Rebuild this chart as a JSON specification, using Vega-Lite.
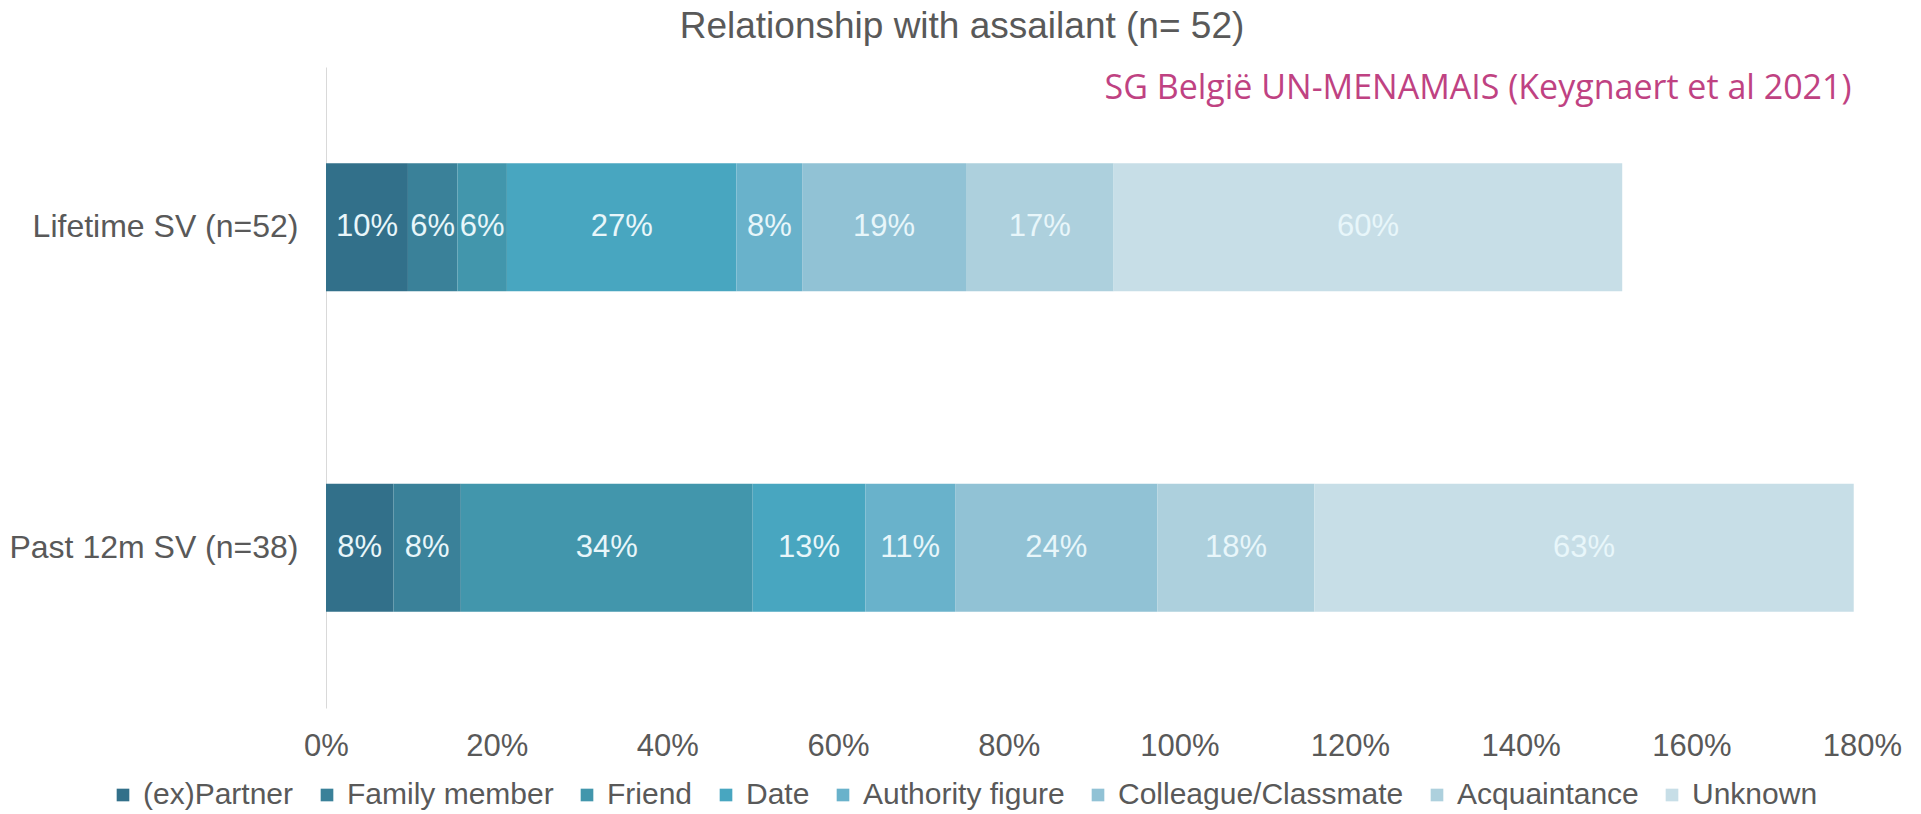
{
  "$schema": "https://vega.github.io/schema/vega-lite/v6.json",
  "width": 1536,
  "height": 641,
  "autosize": {"type": "none"},
  "padding": {"left": 326, "top": 67, "right": 59, "bottom": 106},
  "background": "white",
  "title": {
    "text": "Relationship with assailant (n= 52)",
    "anchor": "middle",
    "dx": -132,
    "font": "Liberation Sans",
    "fontSize": 37,
    "fontWeight": "normal",
    "color": "#595959",
    "offset": 21
  },
  "data": {
    "values": [
      {"row": "Lifetime SV (n=52)", "cat": "(ex)Partner", "order": 1, "v": 0.096},
      {"row": "Lifetime SV (n=52)", "cat": "Family member", "order": 2, "v": 0.058},
      {"row": "Lifetime SV (n=52)", "cat": "Friend", "order": 3, "v": 0.058},
      {"row": "Lifetime SV (n=52)", "cat": "Date", "order": 4, "v": 0.269},
      {"row": "Lifetime SV (n=52)", "cat": "Authority figure", "order": 5, "v": 0.077},
      {"row": "Lifetime SV (n=52)", "cat": "Colleague/Classmate", "order": 6, "v": 0.192},
      {"row": "Lifetime SV (n=52)", "cat": "Acquaintance", "order": 7, "v": 0.173},
      {"row": "Lifetime SV (n=52)", "cat": "Unknown", "order": 8, "v": 0.596},
      {"row": "Past 12m SV (n=38)", "cat": "(ex)Partner", "order": 1, "v": 0.079},
      {"row": "Past 12m SV (n=38)", "cat": "Family member", "order": 2, "v": 0.079},
      {"row": "Past 12m SV (n=38)", "cat": "Friend", "order": 3, "v": 0.342},
      {"row": "Past 12m SV (n=38)", "cat": "Date", "order": 4, "v": 0.132},
      {"row": "Past 12m SV (n=38)", "cat": "Authority figure", "order": 5, "v": 0.1053},
      {"row": "Past 12m SV (n=38)", "cat": "Colleague/Classmate", "order": 6, "v": 0.237},
      {"row": "Past 12m SV (n=38)", "cat": "Acquaintance", "order": 7, "v": 0.184},
      {"row": "Past 12m SV (n=38)", "cat": "Unknown", "order": 8, "v": 0.632}
    ]
  },
  "transform": [
    {"stack": "v", "groupby": ["row"], "sort": [{"field": "order"}], "as": ["x0", "x1"]},
    {"calculate": "(datum.x0 + datum.x1) / 2", "as": "mid"}
  ],
  "encoding": {
    "y": {
      "field": "row",
      "type": "nominal",
      "sort": ["Lifetime SV (n=52)", "Past 12m SV (n=38)"],
      "scale": {"paddingInner": 0.6, "paddingOuter": 0.3},
      "axis": {
        "title": null,
        "domain": true,
        "domainColor": "#d9d9d9",
        "domainWidth": 1,
        "ticks": false,
        "labelFont": "Liberation Sans",
        "labelFontSize": 32,
        "labelColor": "#595959",
        "labelPadding": 28,
        "labelLimit": 500
      }
    }
  },
  "layer": [
    {
      "mark": {"type": "bar", "stroke": null},
      "encoding": {
        "x": {
          "field": "x0",
          "type": "quantitative",
          "scale": {"domain": [0, 1.8], "nice": false, "zero": true},
          "axis": {
            "values": [0, 0.2, 0.4, 0.6, 0.8, 1.0, 1.2, 1.4, 1.6, 1.8],
            "format": ".0%",
            "title": null,
            "domain": false,
            "ticks": false,
            "grid": false,
            "labelFlush": false,
            "labelFont": "Liberation Sans",
            "labelFontSize": 31,
            "labelColor": "#595959",
            "labelPadding": 23
          }
        },
        "x2": {"field": "x1"},
        "color": {
          "field": "cat",
          "type": "nominal",
          "scale": {
            "domain": ["(ex)Partner", "Family member", "Friend", "Date", "Authority figure", "Colleague/Classmate", "Acquaintance", "Unknown"],
            "range": ["#32708a", "#3a8199", "#4296ac", "#48a6c0", "#69b2cb", "#91c2d5", "#add0dd", "#c7dee7"]
          },
          "legend": {
            "title": null,
            "orient": "none",
            "direction": "horizontal",
            "columns": 8,
            "legendX": -218,
            "legendY": 713,
            "symbolType": "square",
            "symbolSize": 160,
            "symbolStrokeWidth": 0,
            "labelFont": "Liberation Sans",
            "labelFontSize": 30,
            "labelColor": "#595959",
            "labelOffset": 5,
            "columnPadding": 18,
            "labelLimit": 500
          }
        }
      }
    },
    {
      "mark": {"type": "text", "font": "Liberation Sans", "fontSize": 31, "color": "#e8f6fa", "align": "center", "baseline": "middle"},
      "encoding": {
        "x": {
          "field": "mid",
          "type": "quantitative",
          "axis": {
            "orient": "top",
            "labels": false,
            "ticks": false,
            "domain": false,
            "grid": false,
            "title": "SG België UN-MENAMAIS (Keygnaert et al 2021)",
            "titleColor": "#bf4282",
            "titleFont": "Open Sans",
            "titleFontSize": 34,
            "titleFontWeight": "normal",
            "titleAnchor": "end",
            "titleAlign": "right",
            "titleBaseline": "middle",
            "titleX": 1525,
            "titleY": 21
          }
        },
        "text": {"field": "v", "type": "quantitative", "format": ".0%"}
      }
    }
  ],
  "resolve": {"axis": {"x": "independent"}},
  "config": {"view": {"stroke": null}}
}
